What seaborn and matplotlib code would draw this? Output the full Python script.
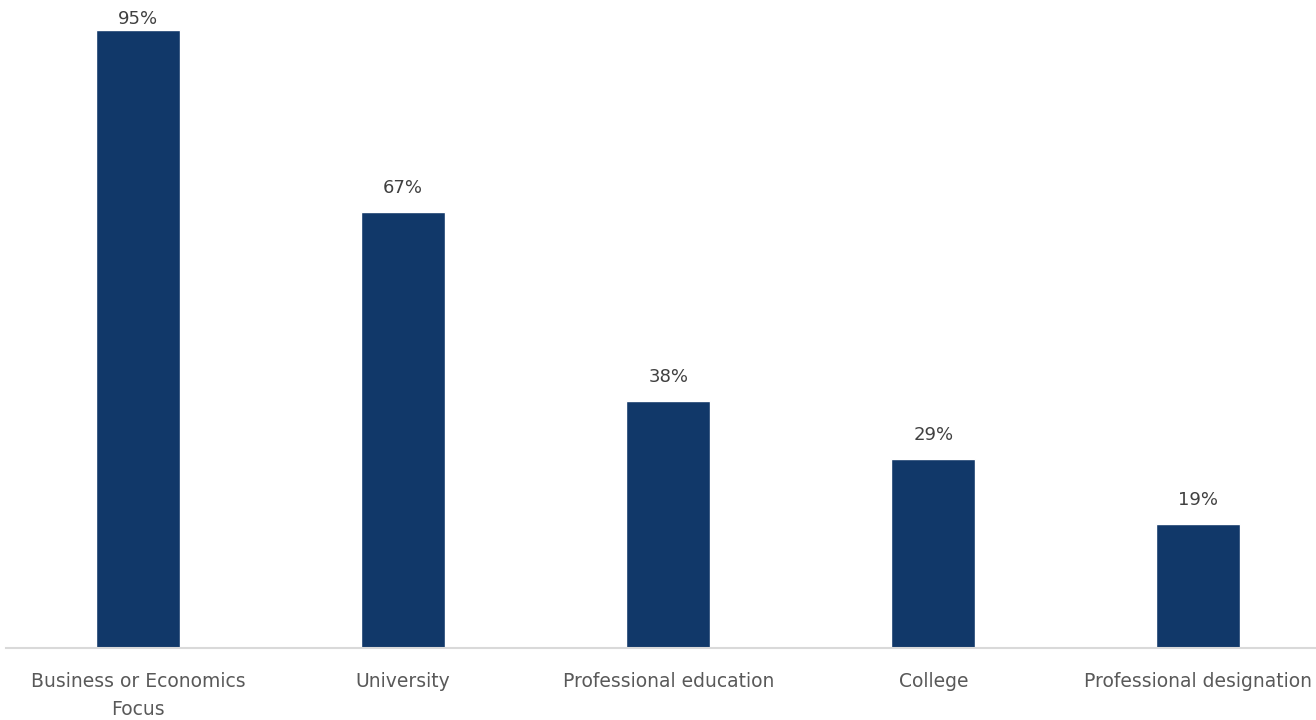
import matplotlib
matplotlib.use("Agg")
import matplotlib.pyplot as plt
import seaborn as sns
import pandas as pd

# data
categories = ["Business or Economics\nFocus", "University", "Professional education",
              "College", "Professional designation"]
shares = [95, 67, 38, 29, 19]

df = pd.DataFrame({"category": categories, "share": shares})

sns.set_style("white")
plt.rcParams["font.family"] = ["DejaVu Sans"]

fig = plt.figure(figsize=(13.16, 7.2), dpi=100)
# axes runs slightly past the right edge, like the cropped original
ax = fig.add_axes([5.5 / 1316, 0.1, 1325.5 / 1316, 0.9])

sns.barplot(data=df, x="category", y="share", color="#113869", width=0.317,
            saturation=1, ax=ax)

ymax = 99.6
for p, v in zip(ax.patches, shares):
    # keep the label inside the plot area (the tallest one gets pushed down)
    y = min(v + 2.3, ymax - 4.3)
    ax.text(p.get_x() + p.get_width() / 2, y, f"{v}%", ha="center", va="bottom",
            fontsize=13, color="#404040")

ax.set_xlim(-0.5, 4.5)
ax.set_ylim(0, ymax)
ax.set_xlabel("")
ax.set_ylabel("")
ax.set_yticks([])
ax.tick_params(axis="x", length=0, pad=17, labelsize=13.5, labelcolor="#595959")
for lbl in ax.get_xticklabels():
    lbl.set_linespacing(1.6)
for s in ["top", "right", "left"]:
    ax.spines[s].set_visible(False)
ax.spines["bottom"].set_color("#d9d9d9")
ax.spines["bottom"].set_linewidth(1.5)

fig.savefig("out.png", dpi=100)
